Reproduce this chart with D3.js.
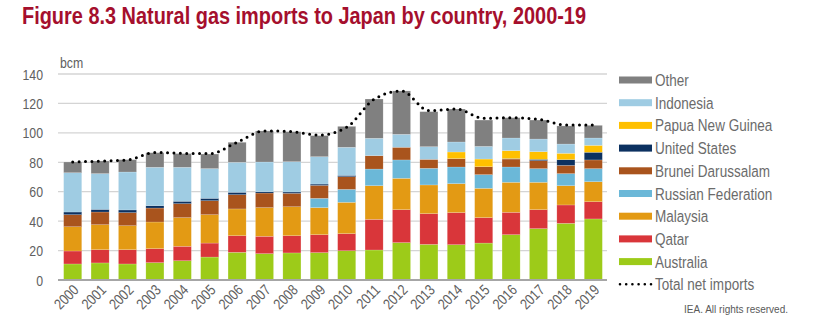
<!DOCTYPE html>
<html>
<head>
<meta charset="utf-8">
<script src="https://cdn.jsdelivr.net/npm/d3@7"></script>
<style>
  body { margin: 0; background: #fff; }
  svg { display: block; }
  text { font-family: "Liberation Sans Narrow", "Arial Narrow", "Liberation Sans", Arial, sans-serif; }
</style>
</head>
<body>
<svg id="chart" width="816" height="330"></svg>
<script>
const years = ["2000","2001","2002","2003","2004","2005","2006","2007","2008","2009",
               "2010","2011","2012","2013","2014","2015","2016","2017","2018","2019"];

const australia = [10.9, 11.6, 10.9, 11.8, 13.1, 15.6, 18.8, 17.9, 18.4, 18.6, 19.9, 20.4, 25.4, 24.2, 24.0, 25.1, 30.8, 34.9, 38.5, 41.5];
const qatar     = [8.8, 9.0, 9.7, 9.5, 9.8, 9.5, 11.3, 11.8, 11.7, 12.2, 11.6, 20.8, 22.4, 20.9, 21.8, 17.3, 15.2, 12.9, 12.5, 11.7];
const malaysia  = [16.5, 17.0, 16.3, 18.1, 19.5, 19.3, 18.2, 19.5, 19.7, 18.4, 21.3, 22.9, 21.3, 19.5, 19.7, 19.9, 20.4, 18.6, 13.1, 13.6];
const russia    = [0, 0, 0, 0, 0, 0, 0, 0, 0, 6.3, 8.8, 11.3, 12.5, 11.3, 11.3, 9.3, 10.4, 9.3, 8.2, 8.9];
const brunei    = [8.2, 8.6, 8.9, 9.5, 9.5, 9.5, 9.7, 9.9, 9.1, 8.8, 8.6, 9.1, 8.6, 6.1, 5.7, 5.4, 5.4, 5.4, 5.6, 5.9];
const us        = [1.8, 1.8, 1.8, 1.6, 1.6, 1.6, 1.6, 0.9, 0.9, 0.9, 0.9, 0, 0, 0, 0, 0, 0.3, 0.9, 3.9, 5.2];
const png       = [0, 0, 0, 0, 0, 0, 0, 0, 0, 0, 0, 0, 0, 0, 4.5, 5.2, 5.4, 5.2, 4.3, 4.7];
const indonesia = [26.7, 24.3, 25.8, 26.1, 23.1, 20.2, 20.4, 20.2, 20.6, 18.6, 19.1, 11.8, 8.8, 8.6, 6.8, 8.6, 8.6, 8.6, 6.3, 5.0];
const other     = [7.3, 8.6, 8.4, 9.9, 9.3, 9.9, 13.6, 21.1, 20.4, 14.3, 14.2, 26.7, 29.5, 23.8, 22.4, 17.9, 13.8, 12.9, 12.3, 8.6];
const totalNet  = [80.2, 80.8, 81.6, 86.7, 86.1, 85.9, 93.6, 101.3, 100.8, 98.5, 103.8, 122.8, 128.5, 115.1, 116.2, 109.9, 110.3, 109.2, 105.3, 105.3];

const yTicks = [0, 20, 40, 60, 80, 100, 120, 140];

const seriesNames = ["Australia","Qatar","Malaysia","Russian Federation","Brunei Darussalam","United States","Papua New Guinea","Indonesia","Other"];
const seriesValues = [australia, qatar, malaysia, russia, brunei, us, png, indonesia, other];
const seriesColors = ["#9dcb19","#d9363a","#e39a14","#6bb8d8","#a9541d","#0c3160","#ffc000","#9fcce3","#808080"];

const NARROW = 0.82;
const svg = d3.select("#chart");

function ntext(parent, x, y, size, fill, str, anchor, sx) {
  return parent.append("text")
    .attr("transform", `translate(${x},${y}) scale(${sx || NARROW},1)`)
    .attr("font-size", size).attr("fill", fill)
    .attr("text-anchor", anchor || "start")
    .text(str);
}

// Title
ntext(svg, 22, 24, 24, "#a50f2d", "Figure 8.3 Natural gas imports to Japan by country, 2000-19", "start", 0.83)
  .attr("font-weight", "bold");

const x = d3.scaleBand().domain(years).range([59, 607]).paddingInner(0.34).paddingOuter(0.17);
const y = d3.scaleLinear().domain([0, 140]).range([280, 74]);

// gridlines
svg.append("g").selectAll("line").data(yTicks.filter(d => d > 0)).join("line")
  .attr("x1", 58).attr("x2", 607)
  .attr("y1", d => y(d)).attr("y2", d => y(d))
  .attr("stroke", "#d4d4d4").attr("stroke-width", 1.3);

// y axis labels
const yAxis = d3.axisLeft(y).tickValues(yTicks).tickSize(0).tickPadding(0);
const gy = svg.append("g").attr("transform", "translate(43,0)").call(yAxis);
gy.select(".domain").remove();
gy.selectAll("text").attr("font-size", 15).attr("fill", "#606060")
  .style("font-family", '"Liberation Sans Narrow", "Arial Narrow", "Liberation Sans", Arial, sans-serif')
  .attr("x", null).attr("dy", null).attr("y", 5)
  .attr("transform", `scale(${NARROW},1)`);

ntext(svg, 60, 68, 15, "#606060", "bcm");

// stacked bars
const table = years.map((yr, i) => {
  const row = { year: yr };
  seriesNames.forEach((n, k) => row[n] = seriesValues[k][i]);
  return row;
});
const stack = d3.stack().keys(seriesNames)(table);

svg.append("g").selectAll("g").data(stack).join("g")
  .attr("fill", (d, i) => seriesColors[i])
  .selectAll("rect").data(d => d).join("rect")
  .attr("x", d => x(d.data.year))
  .attr("width", x.bandwidth())
  .attr("y", d => y(d[1]))
  .attr("height", d => Math.max(0, y(d[0]) - y(d[1])))
  .attr("stroke", "rgba(255,255,255,0.35)").attr("stroke-width", 0.5);

// x axis
const xAxis = d3.axisBottom(x).tickSize(0).tickPadding(0);
const gx = svg.append("g").attr("transform", "translate(0,280)").call(xAxis);
gx.select(".domain").remove();
svg.append("line").attr("x1", 58).attr("x2", 607).attr("y1", 280).attr("y2", 280)
  .attr("stroke", "#a6a6a6").attr("stroke-width", 2);
gx.selectAll("text")
  .attr("font-size", 15).attr("fill", "#606060")
  .style("font-family", '"Liberation Sans Narrow", "Arial Narrow", "Liberation Sans", Arial, sans-serif')
  .attr("text-anchor", "end")
  .attr("dy", null).attr("y", 0)
  .attr("transform", `translate(7,11) rotate(-45) scale(${NARROW},1)`);

// total net imports line
const line = d3.line()
  .x((d, i) => x(years[i]) + x.bandwidth() / 2)
  .y(d => y(d))
  .curve(d3.curveMonotoneX);
svg.append("path").datum(totalNet)
  .attr("d", line)
  .attr("fill", "none").attr("stroke", "#000")
  .attr("stroke-width", 3).attr("stroke-linecap", "round")
  .attr("stroke-dasharray", "0 6.4");

// legend
const legendItems = seriesNames.map((n, i) => ({ name: n, color: seriesColors[i] })).reverse();
const lg = svg.append("g");
legendItems.forEach((d, i) => {
  const cy = 80 + i * 22.7;
  lg.append("rect").attr("x", 619).attr("y", cy - 3.5).attr("width", 33).attr("height", 7).attr("fill", d.color);
  ntext(lg, 655, cy + 6, 16.5, "#6b6b6b", d.name);
});
const ty = 80 + 9 * 22.7;
lg.append("line").attr("x1", 620).attr("x2", 651).attr("y1", ty).attr("y2", ty)
  .attr("stroke", "#000").attr("stroke-width", 2.6).attr("stroke-linecap", "round").attr("stroke-dasharray", "0 6.2");
ntext(lg, 655, ty + 6, 16.5, "#6b6b6b", "Total net imports");

ntext(svg, 788, 313, 10, "#595959", "IEA. All rights reserved.", "end", 1);
</script>
</body>
</html>
